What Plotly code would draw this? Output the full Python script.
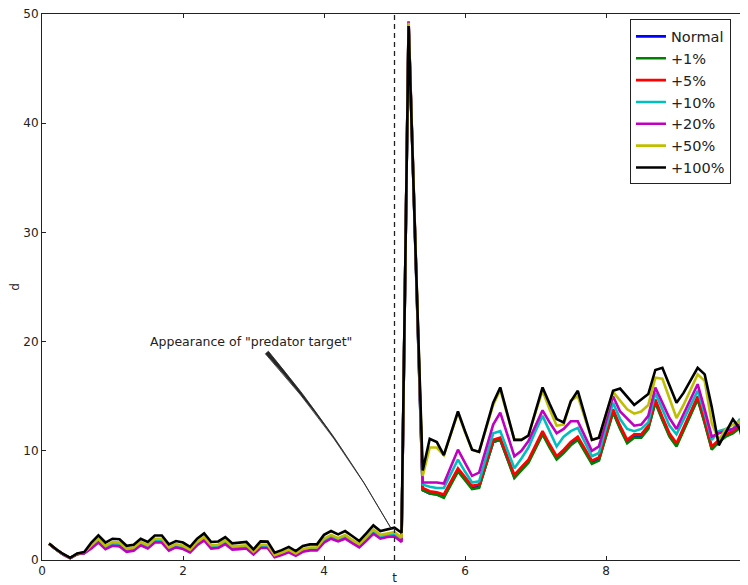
import plotly.graph_objects as go

# ---------------- data ----------------
t = [round(0.1 * k, 1) for k in range(1, 101)]

series_names = ["Normal", "+1%", "+5%", "+10%", "+20%", "+50%", "+100%"]
series_colors = ["#0000ff", "#008000", "#ff0000", "#00bfbf", "#bf00bf", "#bfbf00", "#000000"]

normal = [1.49, 0.96, 0.52, 0.19, 0.55, 0.65, 1.18, 1.76, 1.14, 1.46, 1.42, 0.87, 0.97, 1.48, 1.19, 1.76, 1.76, 0.99, 1.29, 1.14,
          0.79, 1.48, 1.93, 1.19, 1.24, 1.6, 1.07, 1.14, 1.19, 0.6, 1.24, 1.24, 0.35, 0.55, 0.81, 0.47, 0.87, 0.99, 0.99, 1.76,
          2.1, 1.84, 2.1, 1.69, 1.29, 1.9, 2.58, 2.1, 2.26, 2.33, 1.84,
          49.1, 27.8, 6.4, 6.1, 6.0, 5.8, 7.0, 8.2, 7.4, 6.6, 6.7, 8.8, 10.8, 11.0, 9.3, 7.6, 8.3, 9.0, 10.3, 11.6,
          10.4, 9.3, 9.9, 10.6, 11.1, 10.0, 8.9, 9.2, 11.4, 13.6, 12.1, 10.8, 11.3, 11.3, 12.1, 14.5, 12.9, 11.4, 10.5, 11.9,
          13.4, 14.8, 12.6, 10.2, 10.9, 11.4, 11.7, 12.2, 9.7]
plus1 = [1.49, 0.96, 0.52, 0.19, 0.55, 0.65, 1.18, 1.77, 1.15, 1.47, 1.42, 0.88, 0.98, 1.49, 1.2, 1.77, 1.77, 1.0, 1.3, 1.15,
         0.8, 1.49, 1.94, 1.2, 1.25, 1.61, 1.08, 1.15, 1.2, 0.6, 1.25, 1.25, 0.35, 0.55, 0.82, 0.48, 0.88, 1.0, 1.0, 1.77,
         2.11, 1.85, 2.11, 1.7, 1.3, 1.91, 2.59, 2.11, 2.27, 2.34, 1.85,
         49.1, 27.8, 6.4, 6.1, 6.0, 5.7, 6.9, 8.1, 7.3, 6.5, 6.6, 8.7, 10.8, 11.0, 9.2, 7.5, 8.2, 8.9, 10.2, 11.5,
         10.3, 9.2, 9.8, 10.5, 11.0, 9.9, 8.8, 9.1, 11.3, 13.5, 12.0, 10.7, 11.2, 11.2, 12.0, 14.4, 12.8, 11.3, 10.4, 11.8,
         13.3, 14.7, 12.5, 10.1, 10.8, 11.3, 11.6, 12.1, 9.7]
plus5 = [1.49, 0.96, 0.52, 0.19, 0.55, 0.65, 1.18, 1.78, 1.15, 1.48, 1.43, 0.88, 0.98, 1.5, 1.2, 1.78, 1.78, 1.0, 1.3, 1.15,
         0.8, 1.5, 1.95, 1.2, 1.25, 1.62, 1.08, 1.15, 1.2, 0.6, 1.25, 1.25, 0.35, 0.55, 0.82, 0.48, 0.88, 1.0, 1.0, 1.78,
         2.12, 1.85, 2.12, 1.7, 1.3, 1.92, 2.6, 2.12, 2.28, 2.35, 1.85,
         49.3, 27.9, 6.6, 6.3, 6.2, 6.0, 7.2, 8.4, 7.6, 6.8, 6.9, 9.0, 11.0, 11.2, 9.5, 7.8, 8.5, 9.2, 10.5, 11.8,
         10.6, 9.5, 10.1, 10.8, 11.3, 10.2, 9.1, 9.4, 11.6, 13.8, 12.3, 11.0, 11.5, 11.5, 12.3, 14.7, 13.1, 11.6, 10.7, 12.1,
         13.6, 15.0, 12.8, 10.4, 11.0, 11.5, 11.8, 12.3, 9.8]
plus10 = [1.49, 0.96, 0.52, 0.19, 0.55, 0.65, 1.19, 1.79, 1.16, 1.49, 1.44, 0.89, 0.99, 1.51, 1.21, 1.79, 1.79, 1.01, 1.31, 1.16,
          0.81, 1.51, 1.96, 1.21, 1.26, 1.63, 1.09, 1.16, 1.21, 0.61, 1.26, 1.26, 0.36, 0.56, 0.83, 0.49, 0.89, 1.01, 1.01, 1.79,
          2.13, 1.86, 2.13, 1.71, 1.31, 1.93, 2.61, 2.13, 2.29, 2.36, 1.86,
          49.2, 28.0, 6.9, 6.7, 6.6, 6.6, 7.9, 9.2, 8.1, 7.1, 7.2, 9.4, 11.6, 11.8, 10.1, 8.4, 9.3, 10.3, 11.8, 13.2,
          11.8, 10.4, 11.3, 11.8, 12.1, 10.8, 9.5, 9.8, 12.1, 14.4, 12.9, 12.0, 11.8, 12.0, 12.6, 15.3, 13.8, 12.3, 11.5, 12.8,
          14.2, 15.5, 13.4, 11.0, 11.8, 12.0, 12.0, 12.9, 9.9]
plus20 = [1.48, 0.95, 0.5, 0.18, 0.52, 0.62, 1.05, 1.6, 1.0, 1.3, 1.25, 0.75, 0.85, 1.35, 1.05, 1.6, 1.6, 0.85, 1.15, 1.0,
          0.7, 1.35, 1.8, 1.05, 1.1, 1.45, 0.95, 1.0, 1.05, 0.5, 1.1, 1.1, 0.25, 0.45, 0.7, 0.38, 0.75, 0.88, 0.88, 1.6,
          1.95, 1.7, 1.95, 1.55, 1.15, 1.75, 2.4, 1.95, 2.1, 2.15, 1.65,
          49.3, 28.0, 7.1, 7.1, 7.1, 7.0, 8.6, 10.1, 8.9, 7.7, 8.0, 10.2, 12.4, 13.5, 11.5, 9.5, 10.0, 10.9, 12.3, 13.7,
          12.6, 11.6, 12.0, 12.7, 12.7, 11.3, 10.0, 10.4, 12.7, 15.0, 13.6, 12.9, 12.3, 12.4, 13.2, 15.8, 14.4, 13.0, 12.0, 13.4,
          14.8, 16.1, 13.8, 11.3, 11.6, 11.8, 12.0, 12.4, 9.7]
plus50 = [1.5, 0.97, 0.53, 0.2, 0.58, 0.7, 1.35, 1.95, 1.3, 1.65, 1.6, 1.05, 1.15, 1.65, 1.35, 1.95, 1.95, 1.15, 1.45, 1.3,
          0.95, 1.65, 2.1, 1.35, 1.4, 1.8, 1.25, 1.3, 1.35, 0.75, 1.4, 1.4, 0.45, 0.68, 0.95, 0.6, 1.02, 1.15, 1.15, 1.95,
          2.3, 2.0, 2.3, 1.85, 1.45, 2.1, 2.8, 2.3, 2.45, 2.55, 2.05,
          49.2, 28.3, 7.7, 10.3, 10.3, 9.6, 11.5, 13.5, 11.7, 10.1, 9.9, 12.1, 14.2, 15.6, 13.3, 11.0, 11.0, 11.4, 13.5, 15.5,
          13.8, 12.3, 12.4, 14.6, 15.0, 13.0, 11.0, 11.2, 13.3, 15.4, 14.6, 13.8, 13.4, 13.6, 14.2, 16.7, 16.6, 14.8, 13.0, 14.2,
          15.6, 17.0, 16.4, 12.5, 11.0, 12.0, 12.4, 12.7, 9.8]
plus100 = [1.52, 0.98, 0.55, 0.2, 0.6, 0.73, 1.6, 2.25, 1.6, 1.95, 1.9, 1.3, 1.4, 1.95, 1.65, 2.25, 2.25, 1.43, 1.74, 1.6,
           1.2, 1.95, 2.44, 1.65, 1.7, 2.1, 1.52, 1.6, 1.65, 0.98, 1.7, 1.68, 0.67, 0.9, 1.2, 0.82, 1.28, 1.43, 1.43, 2.3,
           2.65, 2.35, 2.65, 2.2, 1.74, 2.44, 3.17, 2.65, 2.8, 2.96, 2.5,
           48.9, 28.0, 8.2, 11.1, 10.8, 9.6, 11.6, 13.6, 11.8, 10.1, 9.9, 12.2, 14.4, 15.8, 13.4, 11.0, 11.0, 11.4, 13.6, 15.8,
           14.3, 12.9, 12.6, 14.5, 15.5, 13.2, 11.0, 11.2, 13.4, 15.5, 15.7, 14.9, 14.2, 14.7, 15.2, 17.4, 17.6, 16.0, 14.4, 15.3,
           16.5, 17.6, 17.0, 14.0, 10.5, 11.7, 12.9, 12.0, 8.9]

series_values = [normal, plus1, plus5, plus10, plus20, plus50, plus100]

x_ticks = [0, 2, 4, 6, 8, 10]
y_ticks = [0, 10, 20, 30, 40, 50]
event_t = 5.0
annotation_text = 'Appearance of "predator target"'

# ---------------- figure ----------------
# the page adds an 8px body margin, so the figure itself is offset accordingly
W, H = 748, 577
ML, MR, MT, MB = 34, 9, 6, 25
XR, YR = (0, 10), (0, 50)
sx = (W - ML - MR) / (XR[1] - XR[0])
sy = (H - MT - MB) / (YR[1] - YR[0])

fig = go.Figure()
for i, (name, color, vals) in enumerate(zip(series_names, series_colors, series_values)):
    fig.add_trace(go.Scatter(x=t, y=vals, mode="lines", name=name, legendgroup=f"g{i}",
                             line=dict(color=color, width=2.6)))

# dashed event line
fig.add_shape(type="line", xref="x", yref="paper", x0=event_t, x1=event_t, y0=0, y1=1,
              line=dict(color="#222222", width=1.3, dash="5px,4px"))

# curved wedge arrow (text -> event)
p0 = (3.19, 19.0)
p2 = (4.96, 2.8)
c = (4.206, 11.47)
tx, ty = (c[0] - p0[0]) * sx, -(c[1] - p0[1]) * sy
norm = (tx ** 2 + ty ** 2) ** 0.5
px_, py_ = ty / norm, -tx / norm
hw = 2.0
ox, oy = px_ * hw / sx, -py_ * hw / sy
path = (f"M {p0[0]+ox},{p0[1]+oy} Q {c[0]},{c[1]} {p2[0]},{p2[1]} "
        f"Q {c[0]},{c[1]} {p0[0]-ox},{p0[1]-oy} Z")
fig.add_shape(type="path", xref="x", yref="y", path=path,
              fillcolor="#262626", line=dict(color="#262626", width=0.8))

fig.add_annotation(x=2.97, y=20.0, xref="x", yref="y", text=annotation_text, showarrow=False,
                   font=dict(family="DejaVu Sans", size=12.5, color="#222222"))

axis_common = dict(showgrid=False, zeroline=False, showline=True, linecolor="#222222", linewidth=1,
                   mirror="allticks", ticks="inside", ticklen=4, tickcolor="#222222", automargin=False,
                   ticklabeloverflow="allow",
                   tickfont=dict(family="DejaVu Sans", size=12, color="#222222"))

fig.update_layout(
    width=W, height=H,
    margin=dict(l=ML, r=MR, t=MT, b=MB),
    paper_bgcolor="white", plot_bgcolor="white",
    font=dict(family="DejaVu Sans", color="#222222"),
    xaxis=dict(range=list(XR), tickvals=x_ticks, ticktext=[str(v) for v in x_ticks],
               title=dict(text="t", font=dict(size=12), standoff=8), **axis_common),
    yaxis=dict(range=list(YR), tickvals=y_ticks, ticktext=[str(v) for v in y_ticks],
               title=dict(text="d", font=dict(size=12), standoff=4), **axis_common),
    legend=dict(x=0.834, y=0.99, xanchor="left", yanchor="top",
                bgcolor="white", bordercolor="#222222", borderwidth=1,
                font=dict(family="DejaVu Sans", size=14.5, color="#222222"),
                tracegroupgap=0, itemwidth=30),
    showlegend=True,
)

fig.write_html("out.html")
